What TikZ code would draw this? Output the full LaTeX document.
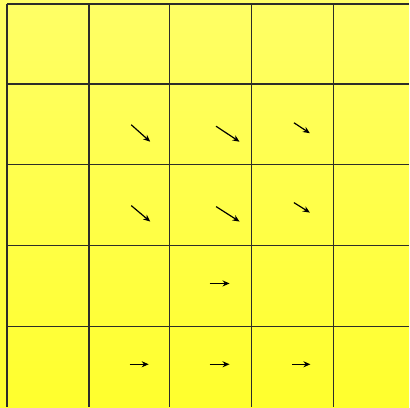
\documentclass[tikz,border=0pt]{standalone}
\usetikzlibrary{arrows.meta}

\definecolor{padtop}{RGB}{255,255,102}
\definecolor{padbot}{RGB}{255,255,45}
\definecolor{gridline}{RGB}{45,45,40}

\begin{document}
\begin{tikzpicture}[x=1pt, y=-1pt,
  cell/.style={draw=gridline, line width=1.6pt},
  flow/.style={-{Stealth[length=7pt,width=6pt]}, line width=1.2pt, black}
]
  \shade[top color=padtop, bottom color=padbot] (0,0) rectangle (410,408);

  % grid
  \foreach \gx in {7,89,170,252,334}
    \draw[cell] (\gx,4) -- (\gx,408);
  \foreach \gy in {4,84,165,246,327}
    \draw[cell] (7,\gy) -- (410,\gy);

  % field arrows
  \foreach \ax/\ay/\bx/\by in {131.5/125/150.5/142, 216.5/126.5/240/142, 294.5/123/310.5/133.5,
                             131.5/206/150.5/222, 216.5/207/240/222, 294.5/203/310.5/213,
                             210/284/230/284,
                             130/365/149/365, 210/365/230/365, 292.5/365/311/365}
    \draw[flow] (\ax,\ay) -- (\bx,\by);
\end{tikzpicture}
\end{document}
